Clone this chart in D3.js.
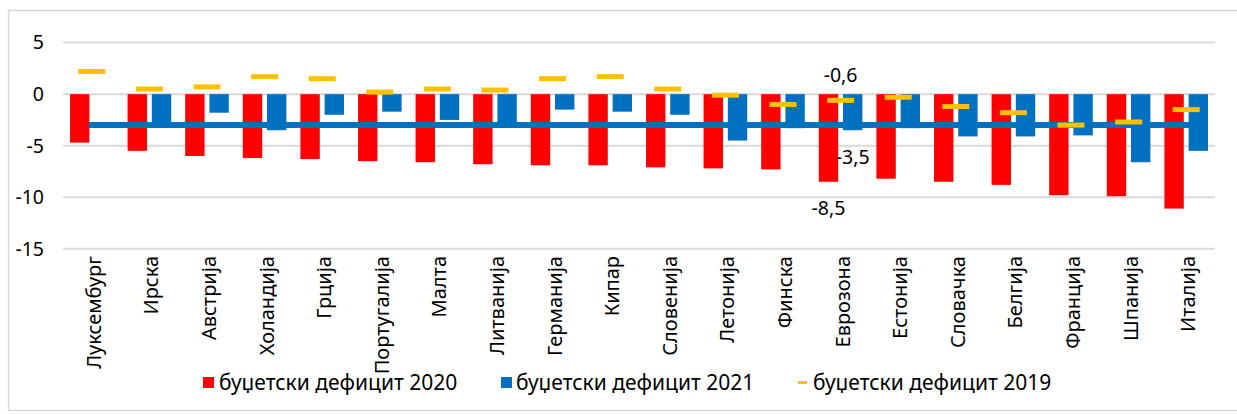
<!DOCTYPE html>
<html>
<head>
<meta charset="utf-8">
<script src="https://cdn.jsdelivr.net/npm/d3@7"></script>
<style>
  html, body { margin: 0; padding: 0; background: #fff; }
  svg { display: block; }
  text { font-family: "Noto Sans", "Open Sans", sans-serif; fill: #000; }
</style>
</head>
<body>
<svg id="chart" width="1237" height="414"></svg>
<script>
const categories = ["Луксембург","Ирска","Австрија","Холандија","Грција","Португалија","Малта","Литванија","Германија","Кипар","Словенија","Летонија","Финска","Еврозона","Естонија","Словачка","Белгија","Франција","Шпанија","Италија"];
const deficit2020 = [-4.7,-5.5,-6.0,-6.2,-6.3,-6.5,-6.6,-6.8,-6.9,-6.9,-7.1,-7.2,-7.3,-8.5,-8.2,-8.5,-8.8,-9.8,-9.9,-11.1];
const deficit2021 = [null,-2.9,-1.8,-3.5,-2.0,-1.7,-2.5,-2.9,-1.5,-1.7,-2.0,-4.5,-3.3,-3.5,-3.3,-4.1,-4.1,-4.0,-6.6,-5.5];
const deficit2019 = [2.2,0.5,0.7,1.7,1.5,0.2,0.5,0.4,1.5,1.7,0.5,-0.1,-1.0,-0.6,-0.3,-1.2,-1.8,-3.0,-2.7,-1.5];
const limitLine = categories.map(() => -3);
const yTicks = [5,0,-5,-10,-15];
const seriesNames = ["буџетски дефицит 2020","буџетски дефицит 2021","буџетски дефицит 2019"];
const dataLabels = [
  {cat:"Еврозона", series:"2019", value:-0.6, text:"-0,6"},
  {cat:"Еврозона", series:"2021", value:-3.5, text:"-3,5"},
  {cat:"Еврозона", series:"2020", value:-8.5, text:"-8,5"}
];

const colors = {"2020":"#FF0000","2021":"#0070C0","2019":"#FFC000"};
const svg = d3.select("#chart");

// frame
svg.append("rect").attr("x",8.5).attr("y",10.5).attr("width",1240).attr("height",400)
  .attr("fill","none").attr("stroke","#d9d9d9").attr("stroke-width",1.5);

const x = d3.scaleBand().domain(categories).range([63,1215]).padding(0);
const x1 = d3.scaleBand().domain(["2020","2021"]).range([7, x.bandwidth()-7]).paddingInner(0.2);
const y = d3.scaleLinear().domain([-15,5]).range([248.8,42.6]);

// gridlines
svg.append("g").selectAll("line").data(yTicks).join("line")
  .attr("x1",63).attr("x2",1215)
  .attr("y1",d=>y(d)).attr("y2",d=>y(d))
  .attr("stroke","#d9d9d9").attr("stroke-width",2);

// y tick labels
svg.append("g").selectAll("text").data(yTicks).join("text")
  .attr("x",44).attr("y",d=>y(d)).attr("dy","0.35em")
  .attr("text-anchor","end").attr("font-size",19.5)
  .text(d=>d);

const rows = categories.map((c,i)=>({c, v20:deficit2020[i], v21:deficit2021[i], v19:deficit2019[i], lim:limitLine[i]}));

// bars
const g = svg.append("g");
g.selectAll("rect.r20").data(rows).join("rect").attr("class","r20")
  .attr("x",d=>x(d.c)+x1("2020")).attr("width",x1.bandwidth())
  .attr("y",d=>y(Math.max(0,d.v20))).attr("height",d=>Math.abs(y(d.v20)-y(0)))
  .attr("fill",colors["2020"]);
g.selectAll("rect.r21").data(rows.filter(d=>d.v21!=null)).join("rect").attr("class","r21")
  .attr("x",d=>x(d.c)+x1("2021")).attr("width",x1.bandwidth())
  .attr("y",d=>y(Math.max(0,d.v21))).attr("height",d=>Math.abs(y(d.v21)-y(0)))
  .attr("fill",colors["2021"]);

// limit line
const line = d3.line().x(d=>x(d.c)+x.bandwidth()/2).y(d=>y(d.lim));
svg.append("path").datum(rows).attr("d",line)
  .attr("fill","none").attr("stroke","#0070C0").attr("stroke-width",6).attr("stroke-linecap","square");

// 2019 markers
svg.append("g").selectAll("rect").data(rows).join("rect")
  .attr("x",d=>x(d.c)+x.bandwidth()/2-13.5).attr("width",27)
  .attr("y",d=>y(d.v19)-2.5).attr("height",5)
  .attr("fill",colors["2019"]);

// data labels
const labelOffsets = {"2019":-18, "2021":34, "2020":33};
const labelDx = {"2019":0, "2021":x1("2021")+x1.bandwidth()/2 - x.bandwidth()/2, "2020":x1("2020")+x1.bandwidth()/2 - x.bandwidth()/2};
svg.append("g").selectAll("text").data(dataLabels).join("text")
  .attr("x",d=>x(d.cat)+x.bandwidth()/2+labelDx[d.series])
  .attr("y",d=>y(d.value)+labelOffsets[d.series])
  .attr("text-anchor","middle").attr("font-size",19.5)
  .text(d=>d.text);

// category labels
svg.append("g").selectAll("text").data(categories).join("text")
  .attr("transform",d=>`translate(${x(d)+x.bandwidth()/2+2},256) rotate(-90)`)
  .attr("dy","0.35em").attr("text-anchor","end").attr("font-size",20)
  .text(d=>d);

// legend
const legend = svg.append("g");
const legItems = [
  {name:seriesNames[0], key:"2020", x:203, tx:219},
  {name:seriesNames[1], key:"2021", x:501, tx:516},
  {name:seriesNames[2], key:"2019", x:798, tx:813}
];
legItems.forEach(it=>{
  if (it.key==="2019") {
    legend.append("rect").attr("x",it.x).attr("y",381).attr("width",9).attr("height",3).attr("fill",colors[it.key]);
  } else {
    legend.append("rect").attr("x",it.x).attr("y",377).attr("width",11).attr("height",11).attr("fill",colors[it.key]);
  }
  legend.append("text").attr("x",it.tx).attr("y",390).attr("font-size",21).text(it.name);
});
</script>
</body>
</html>
